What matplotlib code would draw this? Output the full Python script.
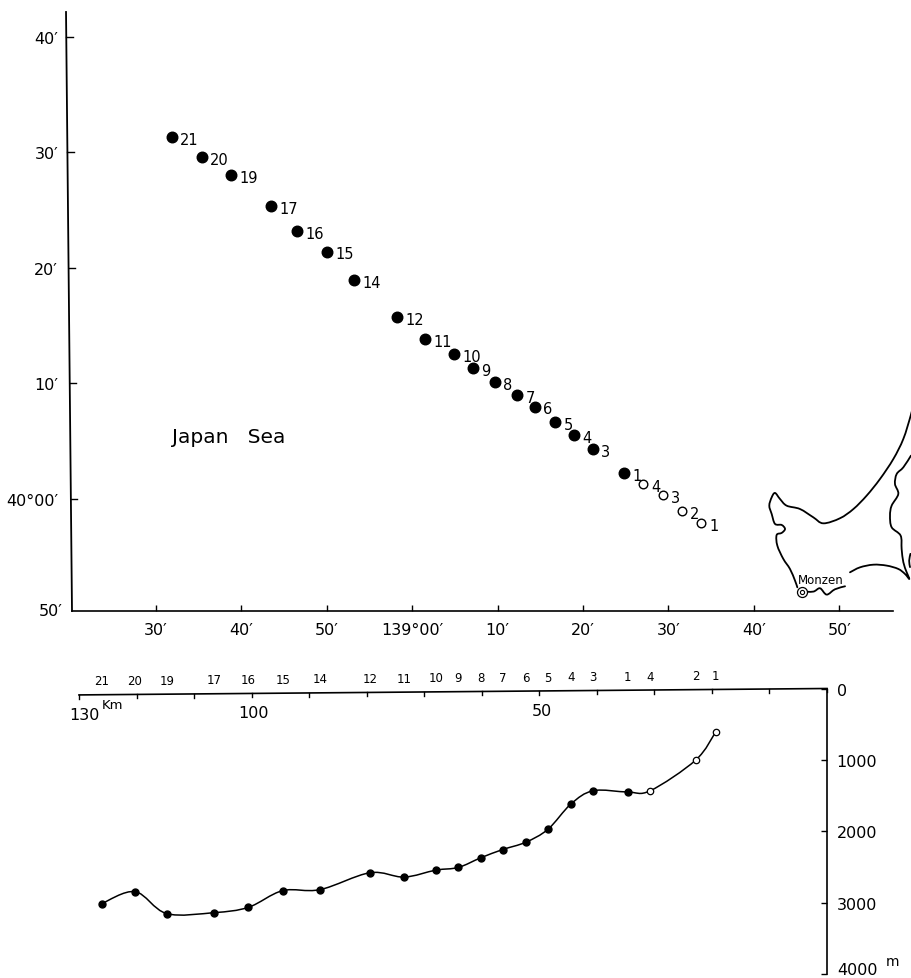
import numpy as np
from matplotlib import pyplot as plt
from matplotlib.patches import PathPatch
from matplotlib.path import Path

# track chart: minutes of longitude from 139E and of latitude from 40N
station_names = ["21", "20", "19", "17", "16", "15", "14", "12", "11", "10", "9",
                 "8", "7", "6", "5", "4", "3", "1", "4", "3", "2", "1"]
station_lon = [-28.07, -24.56, -21.17, -16.49, -13.45, -9.94, -6.78, -1.75, 1.52,
               4.91, 7.13, 9.71, 12.28, 14.39, 16.73, 18.95, 21.17, 24.80, 27.02,
               29.36, 31.58, 33.80]
station_lat = [31.34, 29.61, 28.05, 25.37, 23.20, 21.39, 18.96, 15.76, 13.85, 12.55,
               11.34, 10.13, 9.00, 7.97, 6.67, 5.54, 4.33, 2.25, 1.30, 0.35, -1.04,
               -2.08]
station_open = [False] * 18 + [True] * 4

lon_ticks = [-30, -20, -10, 0, 10, 20, 30, 40, 50]
lon_labels = ["30′", "40′", "50′", "139°00′", "10′", "20′", "30′", "40′", "50′"]
lat_ticks = [0, 10, 20, 30, 40]
lat_labels = ["40°00′", "10′", "20′", "30′", "40′"]

# Noto peninsula coast
coast_west_lon = [58.83, 58.33, 57.47, 56.30, 54.74, 53.18, 51.63, 50.06, 48.11, 46.94, 45.38,
                  43.82, 43.04, 42.46, 42.07, 41.79, 42.07, 42.46, 43.24, 43.63, 43.24,
                  42.65, 42.73, 43.43, 44.21, 44.80, 45.07]
coast_west_lat = [8.66, 7.22, 5.20, 3.46, 1.73, 0.29, -0.87, -1.67, -2.11, -1.59, -0.87,
                  -0.58, 0.00, 0.52, 0.14, -0.58, -1.30, -2.16, -2.25, -2.60, -2.94,
                  -3.12, -4.04, -5.19, -6.06, -7.07, -7.65]
coast_south_lon = [45.58, 46.94, 47.72, 48.50, 49.47, 50.65]
coast_south_lat = [-8.02, -8.02, -7.73, -8.28, -7.82, -7.56]
coast_east_lon = [51.23, 52.40, 53.96, 55.52, 56.88, 57.66, 58.17, 57.86, 57.47, 57.27,
                  57.15, 56.10, 55.91, 56.10, 56.88, 56.49, 56.69, 57.47, 58.36]
coast_east_lat = [-6.35, -5.92, -5.69, -5.77, -6.06, -6.49, -6.93, -6.35, -5.48, -4.33,
                  -3.17, -2.45, -1.44, -0.58, 0.43, 1.30, 2.16, 2.74, 3.75]
coast_edge_lon = [58.30, 58.15, 58.25]
coast_edge_lat = [-4.75, -5.35, -5.90]
monzen_lon = 45.58
monzen_lat = -8.02

# depth section
section_km = [126.05, 120.26, 114.75, 106.48, 100.57, 94.60, 88.11, 79.42, 73.51, 68.00,
              64.08, 60.18, 56.36, 52.36, 48.49, 44.49, 40.62, 34.64, 30.71, 22.82,
              19.34]
section_depth = [3014, 2846, 3154, 3140, 3066, 2832, 2818, 2581, 2642, 2545, 2507, 2372,
                 2256, 2154, 1972, 1617, 1432, 1450, 1432, 1003, 608]
section_names = ["21", "20", "19", "17", "16", "15", "14", "12", "11", "10", "9", "8",
                 "7", "6", "5", "4", "3", "1", "4", "2", "1"]
section_open = [False] * 18 + [True] * 3
km_ticks = [130, 120, 110, 100, 90, 80, 70, 60, 50, 40, 30, 20, 10, 0]
depth_ticks = [0, 1000, 2000, 3000, 4000]

WIDTH, HEIGHT = 911, 979


def axes_box(left, top, right, bottom):
    """Turn pixel edges into a figure-fraction rectangle."""
    return [left / WIDTH, 1 - bottom / HEIGHT, (right - left) / WIDTH, (bottom - top) / HEIGHT]


def smooth_path(xs, ys):
    """Catmull-Rom curve through the points, as a bezier Path."""
    pts = np.column_stack([xs, ys])
    full = np.vstack([pts[0], pts, pts[-1]])
    verts = [pts[0]]
    codes = [Path.MOVETO]
    for i in range(1, len(full) - 2):
        verts.append(full[i] + (full[i + 1] - full[i - 1]) / 6)
        verts.append(full[i + 1] - (full[i + 2] - full[i]) / 6)
        verts.append(full[i + 1])
        codes += [Path.CURVE4] * 3
    return Path(verts, codes)


def draw_curve(ax, xs, ys, lw):
    ax.add_patch(PathPatch(smooth_path(xs, ys), fill=False, edgecolor="black", lw=lw,
                           clip_on=False, capstyle="round", joinstyle="round"))


fig = plt.figure(figsize=(WIDTH / 100, HEIGHT / 100), dpi=100)

# top panel
ax = fig.add_axes(axes_box(72, 13, 893, 612))
x_left, lat_bottom, lat_top = -39.77, -9.7, 42.16
ax.set_xlim(x_left, 56.26)
ax.set_ylim(lat_bottom, lat_top)
for side in ["top", "right", "left"]:
    ax.spines[side].set_visible(False)
ax.spines["bottom"].set_linewidth(1.2)
ax.set_xticks(lon_ticks)
ax.set_xticklabels(lon_labels, fontsize=11.5)
ax.set_yticks(lat_ticks)
ax.set_yticklabels(lat_labels, fontsize=11.5)
ax.tick_params(axis="x", direction="in", length=4, width=1, pad=8)
ax.tick_params(axis="y", length=0, pad=10)
ax.text(-0.012, 0, "50′", transform=ax.transAxes, ha="right", va="center", fontsize=11.5)

# the left rule leans in the scan as well
lean_x = 0.7 / (lat_top - lat_bottom)
ax.plot([x_left - 0.7, x_left], [lat_top, lat_bottom], color="black", lw=1.3, clip_on=False)
for lat in lat_ticks:
    rule_x = x_left - (lat - lat_bottom) * lean_x
    ax.plot([rule_x, rule_x + 0.75], [lat, lat], color="black", lw=1, clip_on=False)

for lon, lat, name, is_open in zip(station_lon, station_lat, station_names, station_open):
    if is_open:
        ax.plot(lon, lat, "o", ms=6.2, mfc="white", mec="black", mew=1)
    else:
        ax.plot(lon, lat, "o", ms=7.6, color="black")
    ax.annotate(name, (lon, lat), xytext=(6, -1.5), textcoords="offset points",
                ha="left", va="center", fontsize=10.5)

draw_curve(ax, coast_west_lon, coast_west_lat, 1.3)
draw_curve(ax, coast_south_lon, coast_south_lat, 1.3)
draw_curve(ax, coast_east_lon, coast_east_lat, 1.3)
draw_curve(ax, coast_edge_lon, coast_edge_lat, 1.3)
ax.plot(monzen_lon, monzen_lat, "o", ms=7.2, mfc="white", mec="black", mew=0.9, zorder=4)
ax.plot(monzen_lon, monzen_lat, "o", ms=3, mfc="white", mec="black", mew=0.8, zorder=5)
ax.annotate("Monzen", (monzen_lon, monzen_lat), xytext=(-2.5, 8.4), textcoords="offset points",
            ha="left", va="center", fontsize=8.5)
ax.text(-28.07, 5.37, "Japan   Sea", ha="left", va="center", fontsize=14.5)

# bottom panel
ax2 = fig.add_axes(axes_box(79, 689.5, 827, 975))
ax2.set_xlim(130, 0)
ax2.set_ylim(4000, 0)
for side in ["top", "left", "bottom"]:
    ax2.spines[side].set_visible(False)
ax2.spines["right"].set_linewidth(1.2)
ax2.xaxis.set_visible(False)
ax2.yaxis.tick_right()
ax2.set_yticks(depth_ticks)
ax2.set_yticklabels(["0", "1000", "2000", "3000", ""], fontsize=11.5)
ax2.tick_params(axis="y", direction="in", length=4, width=1, pad=7)
# last label sits on the image edge, so hang it from the bottom
ax2.annotate("4000", (0, 4000), xytext=(7.5, -2.5), textcoords="offset points",
             ha="left", va="bottom", fontsize=11.5, annotation_clip=False)

# the top rule leans a little in the scan, it is about 90 m lower at the far end
lean = 90 / 130
ax2.plot([130, 0], [130 * lean, 0], color="black", lw=1.2, clip_on=False)
for km in km_ticks:
    ax2.plot([km, km], [km * lean, km * lean + 55], color="black", lw=1, clip_on=False)

draw_curve(ax2, section_km, section_depth, 1.1)
for km, depth, name, is_open in zip(section_km, section_depth, section_names, section_open):
    if is_open:
        ax2.plot(km, depth, "o", ms=4.6, mfc="white", mec="black", mew=0.9, clip_on=False)
    else:
        ax2.plot(km, depth, "o", ms=5, color="black", clip_on=False)
    ax2.annotate(name, (km, km * lean), xytext=(0, 10), textcoords="offset points",
                 ha="center", va="center", fontsize=8.5)

ax2.annotate("130", (130, 130 * lean), xytext=(4, -14), textcoords="offset points",
             ha="center", va="center", fontsize=11.5)
ax2.annotate("Km", (130, 130 * lean), xytext=(24, -7), textcoords="offset points",
             ha="center", va="center", fontsize=9.5)
ax2.annotate("100", (100, 100 * lean), xytext=(1, -14), textcoords="offset points",
             ha="center", va="center", fontsize=11.5)
ax2.annotate("50", (50, 50 * lean), xytext=(1.5, -14), textcoords="offset points",
             ha="center", va="center", fontsize=11.5)
ax2.annotate("m", (0, 4000), xytext=(47, 9), textcoords="offset points",
             ha="center", va="center", fontsize=10, annotation_clip=False)

fig.savefig("out.png", dpi=100)
